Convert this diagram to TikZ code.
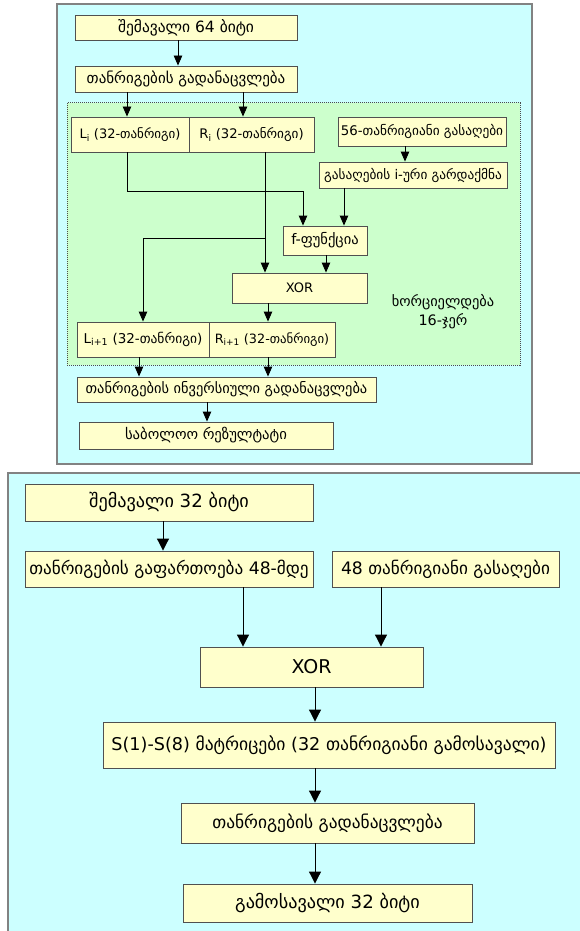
\documentclass[tikz,border=0pt]{standalone}
\usepackage{fontspec}
\setmainfont{DejaVu Sans}
\usetikzlibrary{arrows.meta}
\definecolor{panelcyan}{RGB}{204,255,255}
\definecolor{panelgreen}{RGB}{204,255,204}
\definecolor{boxfill}{RGB}{255,255,204}
\definecolor{boxline}{RGB}{80,80,80}
\definecolor{panelline}{RGB}{130,130,130}
\begin{document}
\begin{tikzpicture}[x=1pt,y=-1pt,
  box/.style={draw=boxline,fill=boxfill,line width=0.9pt,inner sep=0pt,
    minimum height=#1,anchor=center},
  box/.default=26,
  fs/.style={font=\fontsize{#1}{19}\selectfont},
  arr/.style={line width=0.9pt,-{Triangle[length=10pt,width=8.5pt]}},
  arrbig/.style={line width=1pt,-{Triangle[length=12pt,width=12pt]}}]
\useasboundingbox (0,0) rectangle (579,931);
% panels
\draw[panelline,line width=1.3pt,fill=panelcyan] (57,4) rectangle (532,464);
\draw[panelline,line width=1.3pt,fill=panelcyan] (8,473) rectangle (585,940);
\draw[black!70,densely dotted,line width=1pt,fill=panelgreen] (67,103) rectangle (520,365);

% ---------- 16-round encryption scheme ----------
\node[box=25,minimum width=222,fs=15.5] (in64) at (186,27.5) {შემავალი 64 ბიტი};
\node[box=26,minimum width=222,fs=15] (ip) at (186,79) {თანრიგების გადანაცვლება};
\node[box=35,minimum width=118,fs=13] (L) at (130,134.5) {L\textsubscript{i} (32-თანრიგი)};
\node[box=35,minimum width=125,fs=13.2] (R) at (251.5,134.5) {R\textsubscript{i} (32-თანრიგი)};
\node[box=29,minimum width=168,fs=13.3] (key56) at (422,131.5) {56-თანრიგიანი გასაღები};
\node[box=26,minimum width=188,fs=13.3] (ktr) at (413,175) {გასაღების i-ური გარდაქმნა};
\node[box=29,minimum width=84,fs=14.5] (f) at (325,240.5) {f-ფუნქცია};
\node[box=30,minimum width=135,fs=13] (xor1) at (299.5,288) {XOR};
\node[box=35,minimum width=132,fs=13.5] (L1) at (143,339.5) {L\textsubscript{i+1} (32-თანრიგი)};
\node[box=35,minimum width=126,fs=12.8] (R1) at (272,339.5) {R\textsubscript{i+1} (32-თანრიგი)};
\node[box=25,minimum width=299,fs=14.4] (inv) at (226.5,389.5) {თანრიგების ინვერსიული გადანაცვლება};
\node[box=27,minimum width=254,fs=14.7] (res) at (206,435.5) {საბოლოო რეზულტატი};
\node[fs=14.4,align=center] (loop) at (443,312) {ხორციელდება\\16-ჯერ};

% column coordinates for the vertical connectors
\coordinate (c127) at (127,0);
\coordinate (c139) at (139,0);
\coordinate (c143) at (143,0);
\coordinate (c178) at (178,0);
\coordinate (c207) at (207,0);
\coordinate (c243) at (243,0);
\coordinate (c265) at (265,0);
\coordinate (c268) at (268,0);
\coordinate (c303) at (303,0);
\coordinate (c326) at (326,0);
\coordinate (c344) at (344,0);
\coordinate (c405) at (405,0);
\coordinate (r191) at (0,191);
\coordinate (r238) at (0,238);

\draw[arr] (in64.south -| c178) -- (ip.north -| c178);
\draw[arr] (ip.south -| c127) -- (L.north -| c127);
\draw[arr] (ip.south -| c243) -- (R.north -| c243);
\draw[arr] (key56.south -| c405) -- (ktr.north -| c405);
\draw[arr] (L.south -| c127) -- (c127 |- r191) -- (c303 |- r191) -- (f.north -| c303);
\draw[arr] (ktr.south -| c344) -- (f.north -| c344);
\draw[arr] (R.south -| c265) -- (xor1.north -| c265);
\draw[arr] (c265 |- r238) -- (c143 |- r238) -- (L1.north -| c143);
\draw[arr] (f.south -| c326) -- (xor1.north -| c326);
\draw[arr] (xor1.south -| c268) -- (R1.north -| c268);
\draw[arr] (L1.south -| c139) -- (inv.north -| c139);
\draw[arr] (R1.south -| c268) -- (inv.north -| c268);
\draw[arr] (inv.south -| c207) -- (res.north -| c207);

% ---------- f-function scheme ----------
\node[box=37,minimum width=288,fs=18.2] (in32) at (169,502.5) {შემავალი 32 ბიტი};
\node[box=36,minimum width=288,fs=17.2] (exp) at (169,569) {თანრიგების გაფართოება 48-მდე};
\node[box=36,minimum width=227,fs=17.2] (key48) at (445.5,569) {48 თანრიგიანი გასაღები};
\node[box=40,minimum width=223,fs=19] (xor2) at (311.5,667) {XOR};
\node[box=46,minimum width=452,fs=17.6] (sbox) at (329,745) {S(1)-S(8) მატრიცები (32 თანრიგიანი გამოსავალი)};
\node[box=40,minimum width=293,fs=17.4] (perm) at (327.5,823) {თანრიგების გადანაცვლება};
\node[box=38,minimum width=289,fs=18.2] (out) at (327.5,903) {გამოსავალი 32 ბიტი};

\coordinate (d163) at (163,0);
\coordinate (d243) at (243,0);
\coordinate (d381) at (381,0);
\coordinate (d315) at (315,0);

\draw[arrbig] (in32.south -| d163) -- (exp.north -| d163);
\draw[arrbig] (exp.south -| d243) -- (xor2.north -| d243);
\draw[arrbig] (key48.south -| d381) -- (xor2.north -| d381);
\draw[arrbig] (xor2.south -| d315) -- (sbox.north -| d315);
\draw[arrbig] (sbox.south -| d315) -- (perm.north -| d315);
\draw[arrbig] (perm.south -| d315) -- (out.north -| d315);
\end{tikzpicture}
\end{document}
